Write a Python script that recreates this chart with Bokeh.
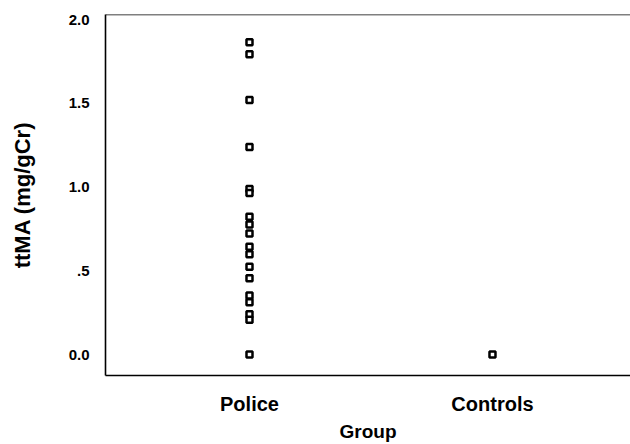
from bokeh.plotting import figure
from bokeh.models import FixedTicker, Range1d, ColumnDataSource, Span
from bokeh.embed import file_html
from bokeh.resources import INLINE

groups = ["Police", "Controls"]
police_values = [1.865, 1.792, 1.519, 1.239, 0.988, 0.964, 0.823, 0.777, 0.722,
                 0.643, 0.599, 0.524, 0.455, 0.352, 0.313, 0.240, 0.208, 0.0]
controls_values = [0.0]
y_ticks = [0.0, 0.5, 1.0, 1.5, 2.0]
y_tick_labels = ["0.0", ".5", "1.0", "1.5", "2.0"]

xs, ys = [], []
for i, vals in enumerate([police_values, controls_values]):
    for v in vals:
        xs.append(i + 1)
        ys.append(v)
src = ColumnDataSource(dict(x=xs, y=ys))

FONT = "Liberation Sans"
X_END = 2.568
Y_END = 2.030

p = figure(width=630, height=444, output_backend="svg", toolbar_location=None,
           x_range=Range1d(0.4074, X_END), y_range=Range1d(-0.125, Y_END),
           min_border_left=105, min_border_right=0, min_border_top=14, min_border_bottom=67)
p.outline_line_color = None
p.grid.visible = False
p.background_fill_color = "white"
p.border_fill_color = "white"

p.scatter("x", "y", source=src, marker="square", size=6, line_width=2.5,
          line_color="black", fill_color="white")

# top edge of the box
p.add_layout(Span(location=Y_END, dimension="width", line_color="black", line_width=1.6))

# x axis
xa = p.xaxis[0]
xa.ticker = FixedTicker(ticks=[1, 2])
xa.major_label_overrides = {i + 1: g for i, g in enumerate(groups)}
xa.axis_label = "Group"
# y axis
ya = p.yaxis[0]
ya.ticker = FixedTicker(ticks=y_ticks)
ya.major_label_overrides = {t: l for t, l in zip(y_ticks, y_tick_labels)}
ya.axis_label = "ttMA (mg/gCr)"

for ax in (xa, ya):
    ax.axis_line_color = "black"
    ax.axis_line_width = 1.6
    ax.major_tick_line_color = None
    ax.minor_tick_line_color = None
    ax.major_tick_out = 0
    ax.major_tick_in = 0
    ax.minor_tick_out = 0
    ax.major_label_text_font = FONT
    ax.major_label_text_font_style = "bold"
    ax.major_label_text_color = "black"
    ax.axis_label_text_font = FONT
    ax.axis_label_text_font_style = "bold"
    ax.axis_label_text_color = "black"

xa.major_label_text_font_size = "20px"
xa.major_label_standoff = 17
xa.axis_label_text_font_size = "19px"
xa.axis_label_standoff = 3
ya.major_label_text_font_size = "15px"
ya.major_label_standoff = 16
ya.axis_label_text_font_size = "22px"
ya.axis_label_standoff = 31

open("out.html", "w").write(file_html(p, INLINE))
